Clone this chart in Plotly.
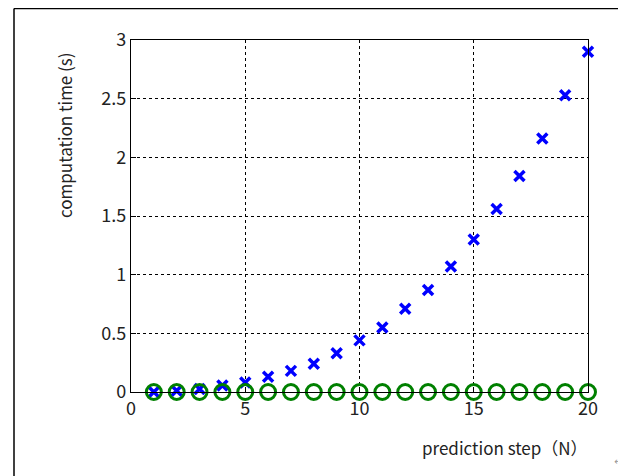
import plotly.graph_objects as go

steps = list(range(1, 21))
time_x = [0.00, 0.01, 0.025, 0.055, 0.08, 0.13, 0.18, 0.24, 0.33, 0.44,
          0.55, 0.71, 0.87, 1.07, 1.30, 1.56, 1.84, 2.16, 2.53, 2.90]
time_o = [0.0] * 20

# page is offset by the browser's 8px body margin
OFF = 8
W, H = 626 - OFF, 476 - OFF
L, R, T, B = 131 - OFF, 38, 40 - OFF, 84
pw, ph = W - L - R, H - T - B

def px(xp):
    return (xp - OFF - L) / pw

def py(yp):
    return (H - B - (yp - OFF)) / ph

FONT = "Noto Sans CJK JP, DejaVu Sans, sans-serif"

fig = go.Figure()
fig.add_trace(go.Scatter(
    x=steps, y=time_x, mode="markers", cliponaxis=False,
    marker=dict(symbol="x-thin", size=10, color="#0000ff",
                line=dict(color="#0000ff", width=3.5)),
    showlegend=False))
fig.add_trace(go.Scatter(
    x=steps, y=time_o, mode="markers", cliponaxis=False,
    marker=dict(symbol="circle-open", size=15, color="#008000",
                line=dict(color="#008000", width=3)),
    showlegend=False))

axis_common = dict(
    showline=True, linecolor="black", linewidth=1.2, mirror=True,
    showgrid=True, gridcolor="black", griddash="3px,3px", gridwidth=1,
    ticks="inside", ticklen=5, tickcolor="black", zeroline=False,
    tickfont=dict(family=FONT, size=18, color="#222"),
)
fig.update_xaxes(range=[0, 20], tick0=0, dtick=5, **axis_common)
fig.update_yaxes(range=[0, 3], tick0=0, dtick=0.5, **axis_common)

fig.update_layout(
    width=W, height=H,
    margin=dict(l=L, r=R, t=T, b=B, pad=0),
    paper_bgcolor="white", plot_bgcolor="white",
    font=dict(family=FONT, size=16, color="#222"),
    shapes=[
        dict(type="line", xref="paper", yref="paper",
             x0=px(14), y0=py(8.5), x1=px(640), y1=py(8.5),
             line=dict(color="black", width=1.5)),
        dict(type="line", xref="paper", yref="paper",
             x0=px(14), y0=py(8.5), x1=px(14), y1=py(490),
             line=dict(color="black", width=1.5)),
    ],
    annotations=[
        dict(text="computation time (s)", xref="paper", yref="paper",
             x=px(64), y=py(135), textangle=-90, showarrow=False,
             font=dict(family=FONT, size=17, color="#222"),
             xanchor="center", yanchor="middle"),
        dict(text="prediction step（N）", xref="paper", yref="paper",
             x=px(505), y=py(447), showarrow=False,
             font=dict(family=FONT, size=17, color="#222"),
             xanchor="center", yanchor="middle"),
        dict(text="↵", xref="paper", yref="paper",
             x=px(618), y=py(460), showarrow=False,
             font=dict(family=FONT, size=10, color="#999"),
             xanchor="center", yanchor="middle"),
    ],
)

fig.write_html("out.html")
